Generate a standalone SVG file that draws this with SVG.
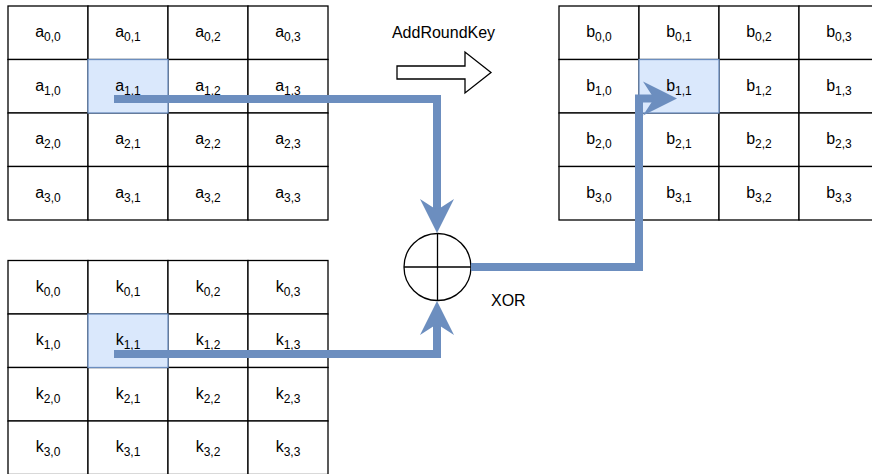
<svg xmlns="http://www.w3.org/2000/svg" width="872" height="474" viewBox="0 0 872 474">
<style>
.c{fill:#fff;stroke:#000;stroke-width:1.3}
.h{fill:#dae8fc;stroke:#6c8ebf;stroke-width:1.3}
text{font-family:"Liberation Sans",Arial,Helvetica,sans-serif;font-size:16px;fill:#000}
.t{text-anchor:middle}
.s{font-size:12px}
.e{fill:none;stroke:#6c8ebf;stroke-width:8;stroke-linejoin:miter}
</style>
<defs>
<marker id="ah" markerUnits="userSpaceOnUse" markerWidth="34" markerHeight="34" refX="11" refY="17" orient="auto" overflow="visible">
<path d="M0,0 L34,17 L0,34 L11,17 Z" fill="#6c8ebf"/>
</marker>
</defs>
<rect width="872" height="474" fill="#fff"/>

<!-- State matrix a -->
<g id="a00"><rect class="c" x="8" y="6" width="80" height="53.5"/><text class="t" x="48" y="37.3">a<tspan class="s" dy="4">0,0</tspan></text></g>
<g id="a01"><rect class="c" x="88" y="6" width="80" height="53.5"/><text class="t" x="128" y="37.3">a<tspan class="s" dy="4">0,1</tspan></text></g>
<g id="a02"><rect class="c" x="168" y="6" width="80" height="53.5"/><text class="t" x="208" y="37.3">a<tspan class="s" dy="4">0,2</tspan></text></g>
<g id="a03"><rect class="c" x="248" y="6" width="80" height="53.5"/><text class="t" x="288" y="37.3">a<tspan class="s" dy="4">0,3</tspan></text></g>
<g id="a10"><rect class="c" x="8" y="59.5" width="80" height="53.5"/><text class="t" x="48" y="90.8">a<tspan class="s" dy="4">1,0</tspan></text></g>
<g id="a12"><rect class="c" x="168" y="59.5" width="80" height="53.5"/><text class="t" x="208" y="90.8">a<tspan class="s" dy="4">1,2</tspan></text></g>
<g id="a13"><rect class="c" x="248" y="59.5" width="80" height="53.5"/><text class="t" x="288" y="90.8">a<tspan class="s" dy="4">1,3</tspan></text></g>
<g id="a20"><rect class="c" x="8" y="113" width="80" height="53.5"/><text class="t" x="48" y="144.3">a<tspan class="s" dy="4">2,0</tspan></text></g>
<g id="a21"><rect class="c" x="88" y="113" width="80" height="53.5"/><text class="t" x="128" y="144.3">a<tspan class="s" dy="4">2,1</tspan></text></g>
<g id="a22"><rect class="c" x="168" y="113" width="80" height="53.5"/><text class="t" x="208" y="144.3">a<tspan class="s" dy="4">2,2</tspan></text></g>
<g id="a23"><rect class="c" x="248" y="113" width="80" height="53.5"/><text class="t" x="288" y="144.3">a<tspan class="s" dy="4">2,3</tspan></text></g>
<g id="a30"><rect class="c" x="8" y="166.5" width="80" height="53.5"/><text class="t" x="48" y="197.8">a<tspan class="s" dy="4">3,0</tspan></text></g>
<g id="a31"><rect class="c" x="88" y="166.5" width="80" height="53.5"/><text class="t" x="128" y="197.8">a<tspan class="s" dy="4">3,1</tspan></text></g>
<g id="a32"><rect class="c" x="168" y="166.5" width="80" height="53.5"/><text class="t" x="208" y="197.8">a<tspan class="s" dy="4">3,2</tspan></text></g>
<g id="a33"><rect class="c" x="248" y="166.5" width="80" height="53.5"/><text class="t" x="288" y="197.8">a<tspan class="s" dy="4">3,3</tspan></text></g>
<g id="a11"><rect class="h" x="88" y="59.5" width="80" height="53.5"/><text class="t" x="128" y="90.8">a<tspan class="s" dy="4">1,1</tspan></text></g>

<!-- Result matrix b -->
<g id="b00"><rect class="c" x="559" y="6" width="80" height="53.5"/><text class="t" x="599" y="37.3">b<tspan class="s" dy="4">0,0</tspan></text></g>
<g id="b01"><rect class="c" x="639" y="6" width="80" height="53.5"/><text class="t" x="679" y="37.3">b<tspan class="s" dy="4">0,1</tspan></text></g>
<g id="b02"><rect class="c" x="719" y="6" width="80" height="53.5"/><text class="t" x="759" y="37.3">b<tspan class="s" dy="4">0,2</tspan></text></g>
<g id="b03"><rect class="c" x="799" y="6" width="80" height="53.5"/><text class="t" x="839" y="37.3">b<tspan class="s" dy="4">0,3</tspan></text></g>
<g id="b10"><rect class="c" x="559" y="59.5" width="80" height="53.5"/><text class="t" x="599" y="90.8">b<tspan class="s" dy="4">1,0</tspan></text></g>
<g id="b12"><rect class="c" x="719" y="59.5" width="80" height="53.5"/><text class="t" x="759" y="90.8">b<tspan class="s" dy="4">1,2</tspan></text></g>
<g id="b13"><rect class="c" x="799" y="59.5" width="80" height="53.5"/><text class="t" x="839" y="90.8">b<tspan class="s" dy="4">1,3</tspan></text></g>
<g id="b20"><rect class="c" x="559" y="113" width="80" height="53.5"/><text class="t" x="599" y="144.3">b<tspan class="s" dy="4">2,0</tspan></text></g>
<g id="b21"><rect class="c" x="639" y="113" width="80" height="53.5"/><text class="t" x="679" y="144.3">b<tspan class="s" dy="4">2,1</tspan></text></g>
<g id="b22"><rect class="c" x="719" y="113" width="80" height="53.5"/><text class="t" x="759" y="144.3">b<tspan class="s" dy="4">2,2</tspan></text></g>
<g id="b23"><rect class="c" x="799" y="113" width="80" height="53.5"/><text class="t" x="839" y="144.3">b<tspan class="s" dy="4">2,3</tspan></text></g>
<g id="b30"><rect class="c" x="559" y="166.5" width="80" height="53.5"/><text class="t" x="599" y="197.8">b<tspan class="s" dy="4">3,0</tspan></text></g>
<g id="b31"><rect class="c" x="639" y="166.5" width="80" height="53.5"/><text class="t" x="679" y="197.8">b<tspan class="s" dy="4">3,1</tspan></text></g>
<g id="b32"><rect class="c" x="719" y="166.5" width="80" height="53.5"/><text class="t" x="759" y="197.8">b<tspan class="s" dy="4">3,2</tspan></text></g>
<g id="b33"><rect class="c" x="799" y="166.5" width="80" height="53.5"/><text class="t" x="839" y="197.8">b<tspan class="s" dy="4">3,3</tspan></text></g>
<g id="b11"><rect class="h" x="639" y="59.5" width="80" height="53.5"/><text class="t" x="679" y="90.8">b<tspan class="s" dy="4">1,1</tspan></text></g>

<!-- Round key matrix k -->
<g id="k00"><rect class="c" x="8" y="260.5" width="80" height="53.5"/><text class="t" x="48" y="291.9">k<tspan class="s" dy="4">0,0</tspan></text></g>
<g id="k01"><rect class="c" x="88" y="260.5" width="80" height="53.5"/><text class="t" x="128" y="291.9">k<tspan class="s" dy="4">0,1</tspan></text></g>
<g id="k02"><rect class="c" x="168" y="260.5" width="80" height="53.5"/><text class="t" x="208" y="291.9">k<tspan class="s" dy="4">0,2</tspan></text></g>
<g id="k03"><rect class="c" x="248" y="260.5" width="80" height="53.5"/><text class="t" x="288" y="291.9">k<tspan class="s" dy="4">0,3</tspan></text></g>
<g id="k10"><rect class="c" x="8" y="314" width="80" height="53.5"/><text class="t" x="48" y="345.4">k<tspan class="s" dy="4">1,0</tspan></text></g>
<g id="k12"><rect class="c" x="168" y="314" width="80" height="53.5"/><text class="t" x="208" y="345.4">k<tspan class="s" dy="4">1,2</tspan></text></g>
<g id="k13"><rect class="c" x="248" y="314" width="80" height="53.5"/><text class="t" x="288" y="345.4">k<tspan class="s" dy="4">1,3</tspan></text></g>
<g id="k20"><rect class="c" x="8" y="367.5" width="80" height="53.5"/><text class="t" x="48" y="398.9">k<tspan class="s" dy="4">2,0</tspan></text></g>
<g id="k21"><rect class="c" x="88" y="367.5" width="80" height="53.5"/><text class="t" x="128" y="398.9">k<tspan class="s" dy="4">2,1</tspan></text></g>
<g id="k22"><rect class="c" x="168" y="367.5" width="80" height="53.5"/><text class="t" x="208" y="398.9">k<tspan class="s" dy="4">2,2</tspan></text></g>
<g id="k23"><rect class="c" x="248" y="367.5" width="80" height="53.5"/><text class="t" x="288" y="398.9">k<tspan class="s" dy="4">2,3</tspan></text></g>
<g id="k30"><rect class="c" x="8" y="421" width="80" height="53.5"/><text class="t" x="48" y="452.4">k<tspan class="s" dy="4">3,0</tspan></text></g>
<g id="k31"><rect class="c" x="88" y="421" width="80" height="53.5"/><text class="t" x="128" y="452.4">k<tspan class="s" dy="4">3,1</tspan></text></g>
<g id="k32"><rect class="c" x="168" y="421" width="80" height="53.5"/><text class="t" x="208" y="452.4">k<tspan class="s" dy="4">3,2</tspan></text></g>
<g id="k33"><rect class="c" x="248" y="421" width="80" height="53.5"/><text class="t" x="288" y="452.4">k<tspan class="s" dy="4">3,3</tspan></text></g>
<g id="k11"><rect class="h" x="88" y="314" width="80" height="53.5"/><text class="t" x="128" y="345.4">k<tspan class="s" dy="4">1,1</tspan></text></g>

<!-- AddRoundKey label and block arrow -->
<g id="addroundkey">
<text class="t" x="443.5" y="38.3">AddRoundKey</text>
<polygon points="397,66 465,66 465,52 491,72.5 465,93 465,79 397,79" fill="#fff" stroke="#000" stroke-width="1.3" stroke-linejoin="miter"/>
</g>

<!-- XOR node -->
<g id="xor">
<circle cx="437.5" cy="267" r="33.5" fill="#fff" stroke="#000" stroke-width="1.3"/>
<line x1="404" y1="267" x2="471" y2="267" stroke="#000" stroke-width="1.3"/>
<line x1="437.5" y1="233.5" x2="437.5" y2="300.5" stroke="#000" stroke-width="1.3"/>
</g>
<g id="xor-label"><text x="491" y="306">XOR</text></g>

<!-- Connectors -->
<g id="connectors">
<path class="e" d="M114,99 H437 V210" marker-end="url(#ah)"/>
<path class="e" d="M114,354 H437 V324" marker-end="url(#ah)"/>
<path class="e" d="M471,267 H639 V98.5 H654" marker-end="url(#ah)"/>
</g>
</svg>
